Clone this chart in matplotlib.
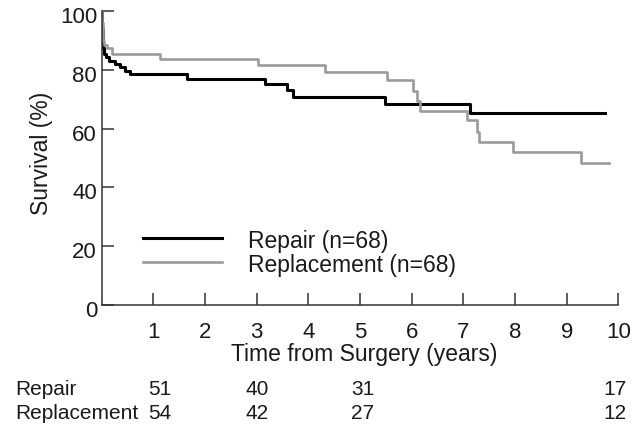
import matplotlib
matplotlib.use("Agg")
import matplotlib.pyplot as plt
import matplotlib.transforms as mtransforms

plt.rcParams["font.family"] = ["Liberation Sans", "DejaVu Sans"]

# Kaplan-Meier steps (years, survival %)
repair_t = [0, 0.005, 0.01, 0.015, 0.02, 0.03, 0.045, 0.09, 0.15, 0.25, 0.35,
            0.45, 0.54, 1.66, 3.16, 3.58, 3.71, 5.49, 7.12, 9.74]
repair_s = [100, 97, 94, 91, 89, 87.5, 85.5, 84.3, 83.2, 82.1, 81.0,
            79.8, 78.7, 76.8, 75.1, 73.2, 70.8, 68.3, 65.3, 65.3]

repl_t = [0, 0.01, 0.02, 0.03, 0.05, 0.1, 0.2, 1.12, 3.03, 4.32, 5.53, 6.03,
          6.10, 6.16, 7.08, 7.26, 7.31, 7.96, 9.28, 9.81]
repl_s = [100, 96, 92, 90, 88.5, 87.6, 85.3, 83.6, 81.7, 79.3, 76.5, 72.7,
          69.5, 66.1, 62.9, 59.0, 55.3, 51.9, 48.2, 48.2]

# numbers at risk
risk_groups = ["Repair", "Replacement"]
risk_repair = [51, 40, 31, 17]
risk_repl = [54, 42, 27, 12]
risk_x = [1.13, 3.01, 5.05, 9.94]

fig = plt.figure(figsize=(6.37, 4.27), dpi=100)
ax = fig.add_axes([0.1597, 0.2841, 0.811, 0.6871])

ax.step(repair_t, repair_s, where="post", color="black", lw=2.2)
ax.step(repl_t, repl_s, where="post", color="#9a9a9a", lw=1.9)

ax.set_xlim(0, 10)
ax.set_ylim(0, 100)
ax.set_xticks(range(1, 11))
ax.set_yticks(range(0, 101, 20))
for s in ["top", "right"]:
    ax.spines[s].set_visible(False)
for s in ["left", "bottom"]:
    ax.spines[s].set_color("#333333")
    ax.spines[s].set_linewidth(1.1)
ax.tick_params(axis="both", direction="in", length=8.5, width=1.1,
               color="#333333", labelsize=16, labelcolor="#1a1a1a")
ax.tick_params(axis="y", pad=3.4)
ax.tick_params(axis="x", pad=11.5)

# y tick labels sit a little below their ticks in the original
shift = mtransforms.ScaledTranslation(0, -3 / 100, fig.dpi_scale_trans)
for lab in ax.get_yticklabels():
    lab.set_transform(lab.get_transform() + shift)

ax.set_xlabel("Time from Surgery (years)", fontsize=16.5, color="#1a1a1a")
ax.xaxis.label.set_va("center")
ax.xaxis.set_label_coords(0.508, -0.168)
ax.set_ylabel("Survival (%)", fontsize=16.5, color="#1a1a1a")
ax.yaxis.label.set_va("center")
ax.yaxis.set_label_coords(-0.116, 0.52)

# legend drawn by hand inside the axes
ax.plot([0.080, 0.232], [0.227, 0.227], transform=ax.transAxes, color="black", lw=2.2)
ax.plot([0.080, 0.232], [0.1445, 0.1445], transform=ax.transAxes, color="#9a9a9a", lw=1.9)
ax.text(0.284, 0.227, "Repair (n=68)", transform=ax.transAxes, fontsize=16.5,
        va="center_baseline", ha="left", color="#1a1a1a")
ax.text(0.284, 0.1445, "Replacement (n=68)", transform=ax.transAxes, fontsize=16.5,
        va="center_baseline", ha="left", color="#1a1a1a")

# at-risk table under the axis
trans = mtransforms.blended_transform_factory(ax.transData, ax.transAxes)
rows_y = [-0.287, -0.366]
for name, vals, yy in zip(risk_groups, [risk_repair, risk_repl], rows_y):
    ax.text(-0.168, yy, name, transform=ax.transAxes, fontsize=15,
            ha="left", va="center", color="#1a1a1a", clip_on=False)
    for xx, v in zip(risk_x, vals):
        ax.text(xx, yy, str(v), transform=trans, fontsize=15,
                ha="center", va="center", color="#1a1a1a", clip_on=False)

fig.savefig("out.png", dpi=100)
